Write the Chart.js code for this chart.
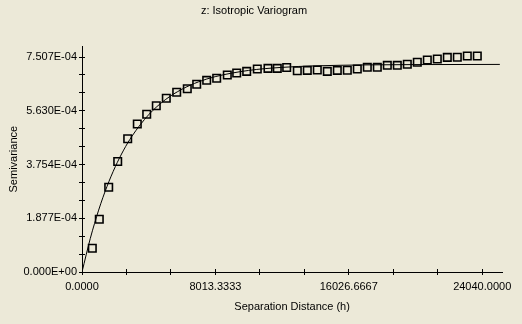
<!DOCTYPE html>
<html>
<head>
<meta charset="utf-8">
<title>z: Isotropic Variogram</title>
<script src="https://cdn.jsdelivr.net/npm/chart.js@4.4.1/dist/chart.umd.min.js"></script>
<style>
  html, body { margin: 0; padding: 0; background: #ece9d8; }
  canvas { display: block; }
</style>
</head>
<body>
<canvas id="variogram" width="522" height="324"></canvas>
<script>
// Experimental semivariance per lag class
const lagDistance = [619, 1039, 1604, 2145, 2745, 3322, 3887, 4463, 5064, 5689,
  6325, 6890, 7490, 8091, 8728, 9293, 9893, 10530, 11173, 11731,
  12296, 12933, 13533, 14134, 14735, 15336, 15937, 16537, 17138, 17739,
  18340, 18940, 19541, 20142, 20743, 21343, 21944, 22545, 23145, 23746];
const semivariance = [0.828e-4, 1.840e-4, 2.958e-4, 3.859e-4, 4.655e-4, 5.168e-4, 5.507e-4, 5.807e-4, 6.066e-4, 6.279e-4,
  6.401e-4, 6.555e-4, 6.694e-4, 6.764e-4, 6.879e-4, 6.949e-4, 7.008e-4, 7.089e-4, 7.113e-4, 7.113e-4,
  7.141e-4, 7.030e-4, 7.043e-4, 7.054e-4, 7.008e-4, 7.043e-4, 7.047e-4, 7.089e-4, 7.148e-4, 7.148e-4,
  7.218e-4, 7.218e-4, 7.256e-4, 7.326e-4, 7.403e-4, 7.438e-4, 7.497e-4, 7.500e-4, 7.543e-4, 7.543e-4];

// Fitted model curve
const modelDistance = [0, 500, 1000, 1500, 2000, 2500, 3000, 4000, 5000, 6000,
  7000, 8000, 10000, 12000, 14000, 17000, 20000, 25100];
const modelSemivariance = [0, 1.175e-4, 2.161e-4, 2.986e-4, 3.677e-4, 4.256e-4, 4.742e-4, 5.490e-4, 6.015e-4, 6.382e-4,
  6.641e-4, 6.822e-4, 7.039e-4, 7.146e-4, 7.199e-4, 7.232e-4, 7.244e-4, 7.250e-4];

// Labelled ticks (two unlabelled ticks sit between each pair)
const xTickValues = [0, 8013.3333, 16026.6667, 24040];
const xTickLabels = ['0.0000', '8013.3333', '16026.6667', '24040.0000'];
const yTickValues = [0, 1.877e-4, 3.754e-4, 5.630e-4, 7.507e-4];
const yTickLabels = ['0.000E+00', '1.877E-04', '3.754E-04', '5.630E-04', '7.507E-04'];

function withMinorTicks(majors) {
  const ticks = [];
  for (let i = 0; i < majors.length; i++) {
    ticks.push({ value: majors[i] });
    if (i < majors.length - 1) {
      const step = (majors[i + 1] - majors[i]) / 3;
      ticks.push({ value: majors[i] + step }, { value: majors[i] + 2 * step });
    }
  }
  return ticks;
}

function labelFor(values, labels, tol) {
  return value => {
    const i = values.findIndex(v => Math.abs(v - value) < tol);
    return i < 0 ? '' : labels[i];
  };
}

// Tick marks cross the axis: Chart.js draws the outer half, this draws the inner half
const innerTicks = {
  id: 'innerTicks',
  afterDraw(chart) {
    const { ctx, chartArea, scales: { x, y } } = chart;
    ctx.save();
    ctx.strokeStyle = '#000';
    ctx.lineWidth = 1;
    ctx.beginPath();
    x.ticks.forEach(t => {
      const px = Math.round(x.getPixelForValue(t.value) - 0.5) + 0.5;
      ctx.moveTo(px, chartArea.bottom);
      ctx.lineTo(px, chartArea.bottom - 3);
    });
    y.ticks.forEach(t => {
      const py = Math.round(y.getPixelForValue(t.value) - 0.5) + 0.5;
      ctx.moveTo(chartArea.left, py);
      ctx.lineTo(chartArea.left + 3, py);
    });
    ctx.stroke();
    ctx.restore();
  }
};

Chart.defaults.font.family = '"Liberation Sans", Arial, sans-serif';
Chart.defaults.font.size = 11;
Chart.defaults.color = '#000';

const axisBase = {
  type: 'linear',
  min: 0,
  border: { display: true, color: '#000', width: 1 },
  grid: { display: true, drawOnChartArea: false, drawTicks: true, tickLength: 3, color: '#000' }
};

new Chart(document.getElementById('variogram'), {
  type: 'scatter',
  data: {
    datasets: [{
      label: 'Experimental',
      data: lagDistance.map((h, i) => ({ x: h, y: semivariance[i] })),
      pointStyle: 'rect',
      pointRadius: 5.3,
      pointBorderWidth: 1.6,
      pointBorderColor: '#000',
      pointBackgroundColor: 'rgba(0,0,0,0)',
      order: 0
    }, {
      label: 'Model',
      data: modelDistance.map((h, i) => ({ x: h, y: modelSemivariance[i] })),
      showLine: true,
      borderColor: '#000',
      borderWidth: 1,
      pointRadius: 0,
      cubicInterpolationMode: 'monotone',
      order: 1
    }]
  },
  options: {
    responsive: false,
    animation: false,
    layout: { padding: { left: 5.8, right: 19.8, top: 0, bottom: 0 } },
    plugins: {
      legend: { display: false },
      tooltip: { enabled: false },
      title: {
        display: true,
        text: 'z: Isotropic Variogram',
        font: { size: 11, weight: 'normal' },
        padding: { top: 4.4, bottom: 28.7 }
      }
    },
    scales: {
      x: {
        ...axisBase,
        max: 24040 * 1.05,
        afterBuildTicks: scale => { scale.ticks = withMinorTicks(xTickValues); },
        afterFit: scale => { scale.height = 52; },
        ticks: {
          autoSkip: false,
          maxRotation: 0,
          padding: 5.5,
          callback: labelFor(xTickValues, xTickLabels, 1e-3)
        },
        title: {
          display: true,
          text: 'Separation Distance (h)',
          font: { size: 11 },
          padding: { top: 0, bottom: 10.4 }
        }
      },
      y: {
        ...axisBase,
        max: 7.507e-4 * 1.05,
        afterBuildTicks: scale => { scale.ticks = withMinorTicks(yTickValues); },
        afterFit: scale => { scale.width = 76.2; },
        ticks: {
          autoSkip: false,
          padding: 2,
          callback: labelFor(yTickValues, yTickLabels, 1e-9)
        },
        title: {
          display: true,
          text: 'Semivariance',
          font: { size: 11 },
          padding: { top: 1.2, bottom: 0 }
        }
      }
    }
  },
  plugins: [innerTicks]
});
</script>
</body>
</html>
